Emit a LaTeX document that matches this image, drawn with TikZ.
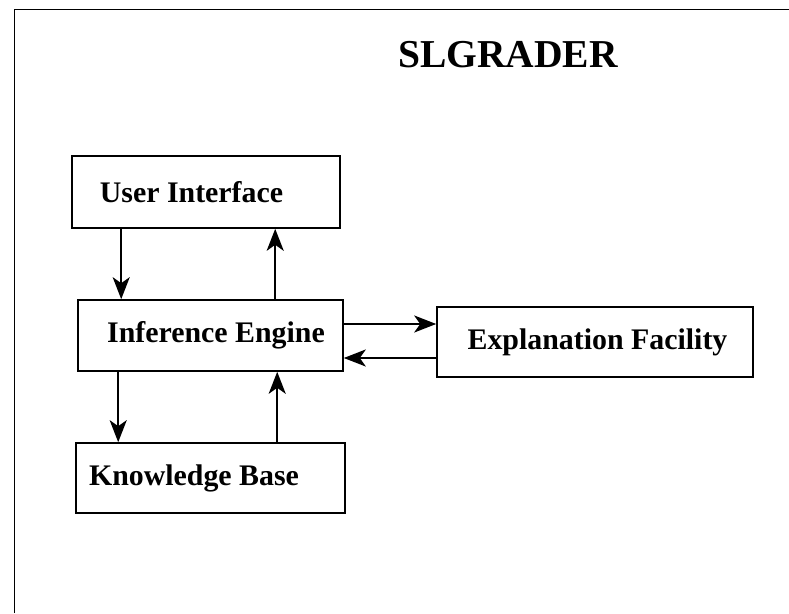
\documentclass[tikz,border=0pt]{standalone}
\usepackage{fontspec}
\setmainfont{Liberation Serif}
\usetikzlibrary{arrows.meta, calc}

\begin{document}
\begin{tikzpicture}[every node/.style={font=\bfseries\fontsize{17}{20}\selectfont},
        box/.style={draw, line width=0.9pt, minimum height=1.42cm, inner sep=0pt},
        flow/.style={line width=1.3pt, -{Stealth[length=0.44cm, width=0.34cm, inset=0.12cm]}}]

                \coordinate (A) at (0, 0);

                % page
                \useasboundingbox (A) rectangle ++(15.78, 12.26);
                \draw[line width=1pt] ($ (A) + (0.29, 0) $) -- ($ (A) + (0.29, 12.07) $) -- ($ (A) + (15.78, 12.07) $);

                % title
                \node[draw=none, font=\bfseries\fontsize{22.5}{26}\selectfont] (title) at ($ (A) + (10.16, 11.16) $) {SLGRADER};

                % boxes
                \node[box, minimum width=5.36cm, minimum height=1.44cm, label={[name=uitext, xshift=-0.29cm]center:User Interface}] (ui) at ($ (A) + (4.12, 8.42) $) {};

                \node[box, minimum width=5.30cm, label={[name=ietext, xshift=0.11cm]center:Inference Engine}] (ie) at ($ (A) + (4.21, 5.55) $) {};

                \node[box, minimum width=5.38cm, minimum height=1.40cm, label={[name=kbtext, xshift=-0.33cm]center:Knowledge Base}] (kb) at ($ (A) + (4.21, 2.70) $) {};

                \node[box, minimum width=6.32cm, minimum height=1.40cm, label={[name=eftext, xshift=0.05cm]center:Explanation Facility}] (ef) at ($ (A) + (11.90, 5.42) $) {};

                % arrows
                \draw[flow] ([xshift=1.00cm]ui.south west) -- ([xshift=1.00cm]ui.south west |- ie.north);
                \draw[flow] ([xshift=4.08cm]ui.south west |- ie.north) -- ([xshift=4.08cm]ui.south west);

                \draw[flow] ([xshift=0.82cm]ie.south west) -- ([xshift=0.82cm]ie.south west |- kb.north);
                \draw[flow] ([xshift=4.00cm]ie.south west |- kb.north) -- ([xshift=4.00cm]ie.south west);

                \draw[flow] ([yshift=0.23cm]ie.east) -- ([yshift=0.23cm]ie.east -| ef.west);
                \draw[flow] ([yshift=-0.45cm]ie.east -| ef.west) -- ([yshift=-0.45cm]ie.east);

\end{tikzpicture}
\end{document}
